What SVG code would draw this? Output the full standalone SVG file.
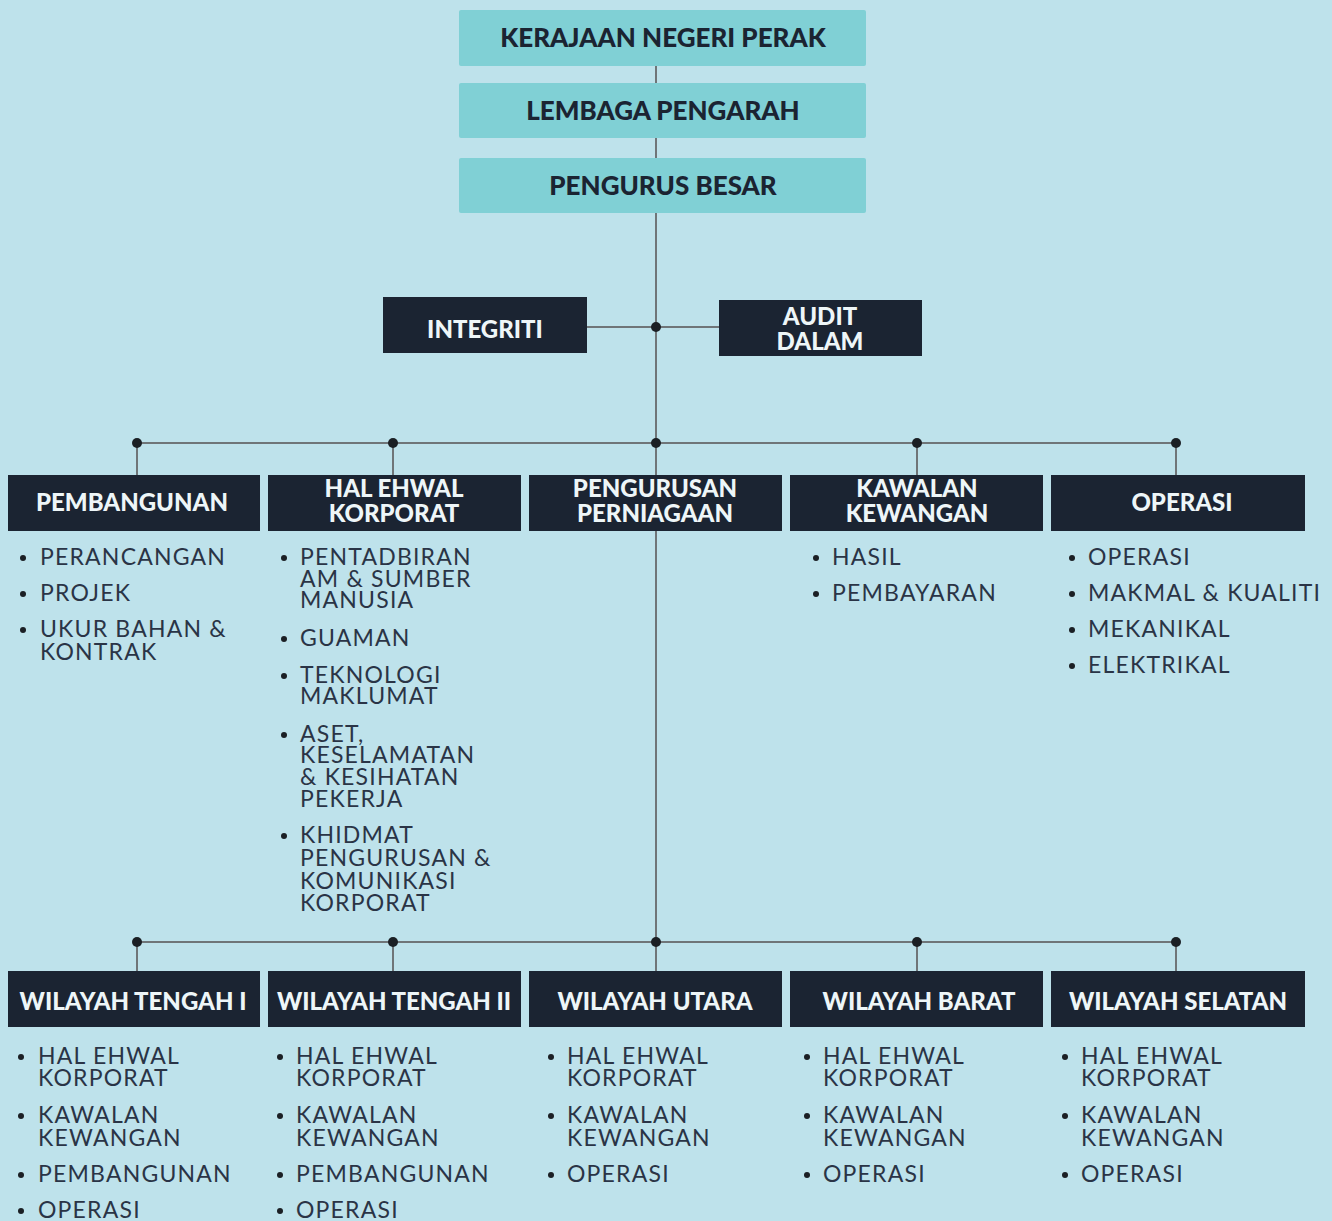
<svg xmlns="http://www.w3.org/2000/svg" width="1332" height="1221" viewBox="0 0 1332 1221">
<style>
.top{fill:#80d0d5}
.dk{fill:#1b2432}
.th{font-family:Lato,"Liberation Sans",sans-serif;font-weight:900;font-size:26px;fill:#1b2432;text-anchor:middle}
.h{font-family:Lato,"Liberation Sans",sans-serif;font-weight:900;font-size:24px;fill:#eef6f8;text-anchor:middle}
.li{font-family:Lato,"Liberation Sans",sans-serif;font-weight:400;font-size:23px;fill:#2a3446;letter-spacing:1.2px}
.ln{stroke:#6f7578;stroke-width:2;fill:none}
.dot{fill:#1b1f24}
.b{fill:#1b1f24}
</style>
<rect width="1332" height="1221" fill="#bee2eb"/>
<g id="connectors">
<line class="ln" x1="656" y1="66" x2="656" y2="971"/>
<line class="ln" x1="587" y1="327" x2="719" y2="327"/>
<line class="ln" x1="137" y1="443" x2="1176" y2="443"/>
<line class="ln" x1="137" y1="443" x2="137" y2="475"/>
<line class="ln" x1="393" y1="443" x2="393" y2="475"/>
<line class="ln" x1="917" y1="443" x2="917" y2="475"/>
<line class="ln" x1="1176" y1="443" x2="1176" y2="475" stroke="#8a9396"/>
<line class="ln" x1="137" y1="942" x2="1176" y2="942"/>
<line class="ln" x1="137" y1="942" x2="137" y2="971"/>
<line class="ln" x1="393" y1="942" x2="393" y2="971"/>
<line class="ln" x1="917" y1="942" x2="917" y2="971"/>
<line class="ln" x1="1176" y1="942" x2="1176" y2="971" stroke="#8a9396"/>
<circle class="dot" cx="656" cy="327" r="5"/>
<circle class="dot" cx="137" cy="443" r="5"/>
<circle class="dot" cx="393" cy="443" r="5"/>
<circle class="dot" cx="656" cy="443" r="5"/>
<circle class="dot" cx="917" cy="443" r="5"/>
<circle class="dot" cx="1176" cy="443" r="5"/>
<circle class="dot" cx="137" cy="942" r="5"/>
<circle class="dot" cx="393" cy="942" r="5"/>
<circle class="dot" cx="656" cy="942" r="5"/>
<circle class="dot" cx="917" cy="942" r="5"/>
<circle class="dot" cx="1176" cy="942" r="5"/>
</g>
<g id="kerajaan"><rect class="top" x="459" y="10" width="407" height="56" rx="2"/><text class="th" x="663" y="47">KERAJAAN NEGERI PERAK</text></g>
<g id="lembaga"><rect class="top" x="459" y="83" width="407" height="55" rx="2"/><text class="th" x="663" y="120">LEMBAGA PENGARAH</text></g>
<g id="pengurus"><rect class="top" x="459" y="158" width="407" height="55" rx="2"/><text class="th" x="663" y="195">PENGURUS BESAR</text></g>
<g id="integriti"><rect class="dk" x="383" y="297" width="204" height="56"/><text class="h" x="485" y="338">INTEGRITI</text></g>
<g id="audit"><rect class="dk" x="719" y="300" width="203" height="56"/><text class="h" x="820" y="325">AUDIT</text><text class="h" x="820" y="350">DALAM</text></g>

<g id="pembangunan"><rect class="dk" x="8" y="475" width="252" height="56"/><text class="h" x="132" y="511">PEMBANGUNAN</text>
<circle class="b" cx="23" cy="558" r="3"/><text class="li" x="40" y="565">PERANCANGAN</text>
<circle class="b" cx="23" cy="594" r="3"/><text class="li" x="40" y="601">PROJEK</text>
<circle class="b" cx="23" cy="630" r="3"/><text class="li" x="40" y="637">UKUR BAHAN &amp;</text><text class="li" x="40" y="660">KONTRAK</text>
</g>
<g id="hal-ehwal"><rect class="dk" x="268" y="475" width="253" height="56"/><text class="h" x="394" y="497">HAL EHWAL</text><text class="h" x="394" y="522">KORPORAT</text>
<circle class="b" cx="284" cy="558" r="3"/><text class="li" x="300" y="565">PENTADBIRAN</text><text class="li" x="300" y="587">AM &amp; SUMBER</text><text class="li" x="300" y="608">MANUSIA</text>
<circle class="b" cx="284" cy="639" r="3"/><text class="li" x="300" y="646">GUAMAN</text>
<circle class="b" cx="284" cy="676" r="3"/><text class="li" x="300" y="683">TEKNOLOGI</text><text class="li" x="300" y="704">MAKLUMAT</text>
<circle class="b" cx="284" cy="735" r="3"/><text class="li" x="300" y="742">ASET,</text><text class="li" x="300" y="763">KESELAMATAN</text><text class="li" x="300" y="785">&amp; KESIHATAN</text><text class="li" x="300" y="807">PEKERJA</text>
<circle class="b" cx="284" cy="836" r="3"/><text class="li" x="300" y="843">KHIDMAT</text><text class="li" x="300" y="866">PENGURUSAN &amp;</text><text class="li" x="300" y="889">KOMUNIKASI</text><text class="li" x="300" y="911">KORPORAT</text>
</g>
<g id="pengurusan-perniagaan"><rect class="dk" x="529" y="475" width="253" height="56"/><text class="h" x="655" y="497">PENGURUSAN</text><text class="h" x="655" y="522">PERNIAGAAN</text></g>
<g id="kawalan-kewangan"><rect class="dk" x="790" y="475" width="253" height="56"/><text class="h" x="917" y="497">KAWALAN</text><text class="h" x="917" y="522">KEWANGAN</text>
<circle class="b" cx="816" cy="558" r="3"/><text class="li" x="832" y="565">HASIL</text>
<circle class="b" cx="816" cy="594" r="3"/><text class="li" x="832" y="601">PEMBAYARAN</text>
</g>
<g id="operasi"><rect class="dk" x="1051" y="475" width="254" height="56"/><text class="h" x="1182" y="511">OPERASI</text>
<circle class="b" cx="1072" cy="558" r="3"/><text class="li" x="1088" y="565">OPERASI</text>
<circle class="b" cx="1072" cy="594" r="3"/><text class="li" x="1088" y="601">MAKMAL &amp; KUALITI</text>
<circle class="b" cx="1072" cy="630" r="3"/><text class="li" x="1088" y="637">MEKANIKAL</text>
<circle class="b" cx="1072" cy="666" r="3"/><text class="li" x="1088" y="673">ELEKTRIKAL</text>
</g>

<g id="wilayah-tengah-1"><rect class="dk" x="8" y="971" width="252" height="56"/><text class="h" x="133" y="1010">WILAYAH TENGAH I</text>
<circle class="b" cx="21" cy="1057" r="3"/><text class="li" x="38" y="1064">HAL EHWAL</text><text class="li" x="38" y="1086">KORPORAT</text>
<circle class="b" cx="21" cy="1116" r="3"/><text class="li" x="38" y="1123">KAWALAN</text><text class="li" x="38" y="1146">KEWANGAN</text>
<circle class="b" cx="21" cy="1175" r="3"/><text class="li" x="38" y="1182">PEMBANGUNAN</text>
<circle class="b" cx="21" cy="1211" r="3"/><text class="li" x="38" y="1218">OPERASI</text>
</g>
<g id="wilayah-tengah-2"><rect class="dk" x="268" y="971" width="253" height="56"/><text class="h" x="394" y="1010">WILAYAH TENGAH II</text>
<circle class="b" cx="280" cy="1057" r="3"/><text class="li" x="296" y="1064">HAL EHWAL</text><text class="li" x="296" y="1086">KORPORAT</text>
<circle class="b" cx="280" cy="1116" r="3"/><text class="li" x="296" y="1123">KAWALAN</text><text class="li" x="296" y="1146">KEWANGAN</text>
<circle class="b" cx="280" cy="1175" r="3"/><text class="li" x="296" y="1182">PEMBANGUNAN</text>
<circle class="b" cx="280" cy="1211" r="3"/><text class="li" x="296" y="1218">OPERASI</text>
</g>
<g id="wilayah-utara"><rect class="dk" x="529" y="971" width="253" height="56"/><text class="h" x="655" y="1010">WILAYAH UTARA</text>
<circle class="b" cx="551" cy="1057" r="3"/><text class="li" x="567" y="1064">HAL EHWAL</text><text class="li" x="567" y="1086">KORPORAT</text>
<circle class="b" cx="551" cy="1116" r="3"/><text class="li" x="567" y="1123">KAWALAN</text><text class="li" x="567" y="1146">KEWANGAN</text>
<circle class="b" cx="551" cy="1175" r="3"/><text class="li" x="567" y="1182">OPERASI</text>
</g>
<g id="wilayah-barat"><rect class="dk" x="790" y="971" width="253" height="56"/><text class="h" x="919" y="1010">WILAYAH BARAT</text>
<circle class="b" cx="807" cy="1057" r="3"/><text class="li" x="823" y="1064">HAL EHWAL</text><text class="li" x="823" y="1086">KORPORAT</text>
<circle class="b" cx="807" cy="1116" r="3"/><text class="li" x="823" y="1123">KAWALAN</text><text class="li" x="823" y="1146">KEWANGAN</text>
<circle class="b" cx="807" cy="1175" r="3"/><text class="li" x="823" y="1182">OPERASI</text>
</g>
<g id="wilayah-selatan"><rect class="dk" x="1051" y="971" width="254" height="56"/><text class="h" x="1178" y="1010">WILAYAH SELATAN</text>
<circle class="b" cx="1065" cy="1057" r="3"/><text class="li" x="1081" y="1064">HAL EHWAL</text><text class="li" x="1081" y="1086">KORPORAT</text>
<circle class="b" cx="1065" cy="1116" r="3"/><text class="li" x="1081" y="1123">KAWALAN</text><text class="li" x="1081" y="1146">KEWANGAN</text>
<circle class="b" cx="1065" cy="1175" r="3"/><text class="li" x="1081" y="1182">OPERASI</text>
</g>
</svg>
